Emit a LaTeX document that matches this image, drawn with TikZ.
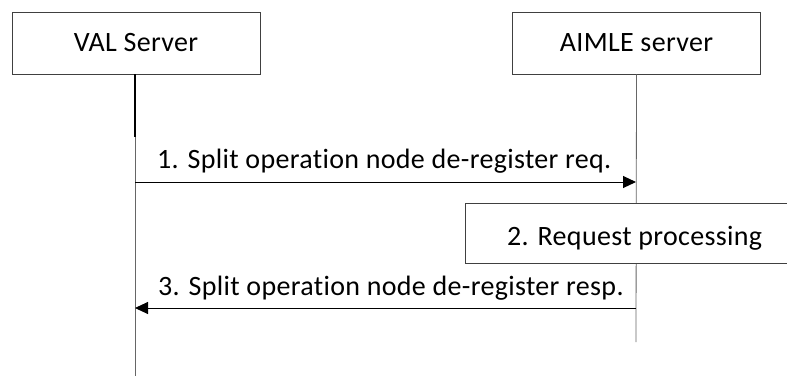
\documentclass[tikz,border=0pt]{standalone}
\usepackage{fontspec}
\setmainfont{Carlito}[LetterSpace=1.2, Ligatures=NoCommon]
\usetikzlibrary{arrows.meta}
\begin{document}
\begin{tikzpicture}[x=1pt,y=-1pt,
  every node/.style={font=\fontsize{28}{32}\selectfont},
  entity/.style={draw=black!75, line width=0.8pt, minimum width=248pt, minimum height=62pt, inner sep=0pt},
  lifeline/.style={draw=black!60, line width=0.8pt},
  msg/.style={draw=black, line width=1pt, -{Triangle[length=13pt,width=12pt]}},
  lbl/.style={inner sep=0pt, anchor=base west}]
\useasboundingbox (0,0) rectangle (787,376);
\node[entity] (val) at (136,43) {VAL Server};
\node[entity] (aimle) at (636.5,43) {AIMLE server};
\coordinate (valthick) at (135,137);
\coordinate (valend) at (135,376);
\coordinate (aimleend) at (636,342);
\draw[line width=1.8pt] (val.south -| valthick) -- (valthick);
\draw[lifeline] (valthick) -- (valend);
\draw[lifeline] (aimle.south) -- (aimleend);
\begin{scope}
\clip (0,0) rectangle (787,376);
\path[draw=black!75, line width=0.8pt, fill=white] (465,203) rectangle (800,263);
\end{scope}
\node[lbl] (proclbl) at (507,245) {2. Request processing};
\coordinate (a1s) at (135,182);
\coordinate (a1e) at (636,182);
\draw[msg] (a1s) -- (a1e);
\node[lbl] (l1) at (157,168) {1. Split operation node de-register req.};
\coordinate (a3s) at (636,308);
\coordinate (a3e) at (135,308);
\draw[msg] (a3s) -- (a3e);
\node[lbl] (l3) at (158,295) {3. Split operation node de-register resp.};
\end{tikzpicture}
\end{document}
